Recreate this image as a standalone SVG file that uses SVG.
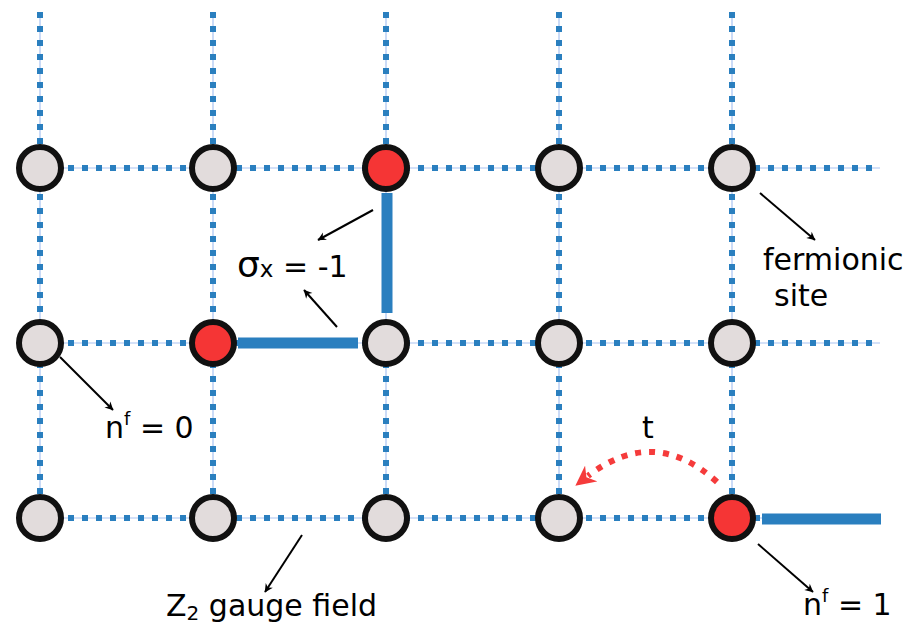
<svg xmlns="http://www.w3.org/2000/svg" width="910" height="626" viewBox="0 0 910 626">
<defs>
<style>
.g{stroke:#2a7fbf;stroke-width:6;stroke-dasharray:6 8;fill:none}
.gl{stroke:#a9c4f2;stroke-width:1.2;fill:none}
.s{stroke:#2a7fbf;stroke-width:11;fill:none}
.n{fill:#e2dcdc;stroke:#111;stroke-width:6}
.r{fill:#f53535;stroke:#111;stroke-width:6}
.a{stroke:#000;stroke-width:2;fill:none;marker-end:url(#ah)}
text{font-family:"DejaVu Sans",sans-serif;font-size:30px;fill:#000}
</style>
<marker id="ah" viewBox="0 0 10 10" refX="9" refY="5" markerWidth="6" markerHeight="6" orient="auto" markerUnits="userSpaceOnUse" overflow="visible">
<path d="M0,0 L10,5 L0,10 L3,5 z" fill="#000" transform="scale(1.4) translate(-3,-1.4)"/>
</marker>
<marker id="rh" viewBox="0 0 10 10" refX="2" refY="5" markerWidth="20" markerHeight="20" orient="auto" markerUnits="userSpaceOnUse">
<path d="M0,0 L10,5 L0,10 L3,5 z" fill="#f53b3b"/>
</marker>
</defs>
<g id="connectors">
<g class="gl">
<path d="M40,12V518M213,12V518M386,12V518M559,12V518M732,12V518"/>
<path d="M40,168H880M40,343H880M40,518H880"/>
</g>
<g class="g">
<path d="M40,12V518M213,12V518M386,12V518M559,12V518M732,12V518"/>
<path d="M40,168H880M40,343H880M40,518H880"/>
</g>
<path class="s" d="M387,193V313"/>
<path class="s" d="M238,343H358"/>
<path class="s" d="M762,519H881"/>
<path d="M717,482 Q654,425 588,476" stroke="#f53b3b" stroke-width="6" stroke-dasharray="6 8" fill="none" marker-end="url(#rh)"/>
<path class="a" d="M373,210L318,240"/>
<path class="a" d="M337,327L304,290"/>
<path class="a" d="M760,193L815,240"/>
<path class="a" d="M60,357L113,410"/>
<path class="a" d="M758,544L813,592"/>
<path class="a" d="M302,535L265,592"/>
</g>
<g id="nodes">
<circle id="n00" class="n" cx="40" cy="168" r="21"/>
<circle id="n01" class="n" cx="213" cy="168" r="21"/>
<circle id="n02" class="r" cx="386" cy="168" r="21"/>
<circle id="n03" class="n" cx="559" cy="168" r="21"/>
<circle id="n04" class="n" cx="732" cy="168" r="21"/>
<circle id="n10" class="n" cx="40" cy="343" r="21"/>
<circle id="n11" class="r" cx="213" cy="343" r="21"/>
<circle id="n12" class="n" cx="386" cy="343" r="21"/>
<circle id="n13" class="n" cx="559" cy="343" r="21"/>
<circle id="n14" class="n" cx="732" cy="343" r="21"/>
<circle id="n20" class="n" cx="40" cy="518" r="21"/>
<circle id="n21" class="n" cx="213" cy="518" r="21"/>
<circle id="n22" class="n" cx="386" cy="518" r="21"/>
<circle id="n23" class="n" cx="559" cy="518" r="21"/>
<circle id="n24" class="r" cx="732" cy="518" r="21"/>
</g>
<g id="labels">
<text x="237" y="277"><tspan font-size="36">σ</tspan><tspan font-size="23">x</tspan> = -1</text>
<text x="763" y="270">fermionic</text>
<text x="774" y="306">site</text>
<text x="105" y="438">n<tspan font-size="18" dy="-13">f</tspan><tspan dy="13"> = 0</tspan></text>
<text x="642" y="438">t</text>
<text x="803" y="615">n<tspan font-size="18" dy="-13">f</tspan><tspan dy="13"> = 1</tspan></text>
<text x="166" y="616">Z<tspan font-size="20" dy="4">2</tspan><tspan dy="-4"> gauge field</tspan></text>
</g>
</svg>
